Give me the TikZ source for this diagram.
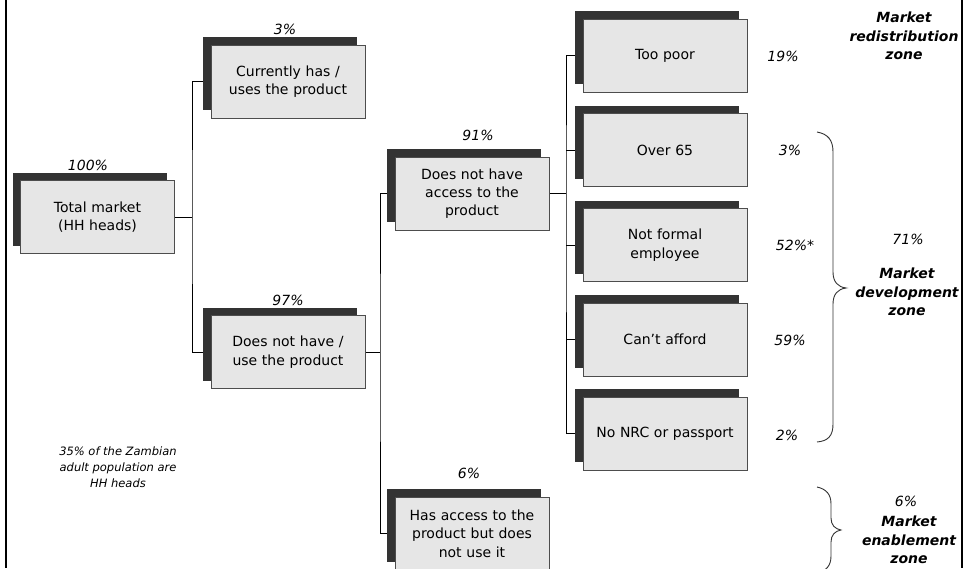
\documentclass[tikz,border=0pt]{standalone}
\usepackage{fontspec}
\setmainfont{DejaVu Sans}
\usetikzlibrary{shadows,backgrounds}
\definecolor{shd}{HTML}{333333}
\definecolor{boxfill}{HTML}{E6E6E6}
\definecolor{boxline}{HTML}{4D4D4D}
\tikzset{
 box/.style={draw=boxline, line width=0.9pt, fill=boxfill, minimum height=73pt, inner sep=2pt, align=center,
   font=\fontsize{14}{18.3}\selectfont,
   general shadow={fill=shd, draw=none, shadow xshift=-8pt, shadow yshift=8pt}},
 lbox/.style={box, minimum width=154pt, text width=150pt},
 rbox/.style={box, minimum width=164pt, text width=160pt},
 pct/.style={font=\fontsize{14}{17}\selectfont\itshape, inner sep=0pt},
 zone/.style={font=\fontsize{14}{18.3}\selectfont\bfseries\itshape, align=center, inner sep=0pt},
 link/.style={draw=black, line width=0.9pt},
 brace/.style={draw=black!80, line width=0.9pt},
 frame/.style={draw=black, line width=2pt},
}
\begin{document}
\begin{tikzpicture}[x=1pt,y=-1pt]
\useasboundingbox (0,0) rectangle (963,568);
% frame side lines
\draw[frame] (6,0) -- (6,568);
\draw[frame] (961.5,0) -- (961.5,568);

% boxes
\node[lbox] (total) at (97.5,217) {Total market\\(HH heads)};
\node[lbox] (curr) at (288,81.5) {Currently has /\\uses the product};
\node[lbox] (dnh) at (288,352) {Does not have /\\use the product};
\node[lbox] (dna) at (472,193.5) {Does not have\\access to the\\product};
\node[lbox] (has) at (472,533.5) {Has access to the\\product but does\\not use it};
\node[rbox] (poor) at (665,55.5) {Too poor};
\node[rbox] (over) at (665,150) {Over 65};
\node[rbox] (form) at (665,245) {Not formal\\employee};
\node[rbox] (aff) at (665,339.5) {Can’t afford};
\node[rbox] (nrc) at (665,433.5) {No NRC or passport};

% percentages above boxes
\node[pct] (p100) at (88,165) {100\%};
\node[pct] (p3) at (285,29) {3\%};
\node[pct] (p97) at (288,300) {97\%};
\node[pct] (p91) at (478,135) {91\%};
\node[pct] (p6) at (469,473) {6\%};

% percentages right of boxes
\node[pct] (r19) at (783,56) {19\%};
\node[pct] (r3) at (790,150) {3\%};
\node[pct] (r52) at (795,245) {52\%*};
\node[pct] (r59) at (790,340) {59\%};
\node[pct] (r2) at (787,435) {2\%};

% note
\node[font=\fontsize{11.5}{16}\selectfont\itshape, align=center, inner sep=0pt] (note) at (118,467)
  {35\% of the Zambian\\adult population are\\HH heads};

% zones
\node[zone] (z1) at (904,36) {Market\\redistribution\\zone};
\node[pct] (z2p) at (908,239) {71\%};
\node[zone] (z2) at (907,292) {Market\\development\\zone};
\node[pct] (z3p) at (906,501) {6\%};
\node[zone] (z3) at (909,540) {Market\\enablement\\zone};

% braces
\draw[brace] (817,132) .. controls (828,134) and (833,140) .. (833,152) -- (833,272)
  .. controls (833,282) and (838,287) .. (846,288)
  .. controls (838,289) and (833,294) .. (833,304) -- (833,424)
  .. controls (833,436) and (828,441) .. (817,442);
\draw[brace] (817,487) .. controls (826,489) and (831,494) .. (831,504) -- (831,518)
  .. controls (831,525) and (835,529) .. (841,530)
  .. controls (835,531) and (831,535) .. (831,542) -- (831,556)
  .. controls (831,566) and (826,571) .. (817,573);

% connectors
\begin{scope}[on background layer]
\coordinate (j1) at (192,217);
\coordinate (j2) at (380,352);
\coordinate (j3) at (566,193.5);
\draw[link] (total.east) -- (j1);
\draw[link] (curr.west) -| (j1) |- (dnh.west);
\draw[link] (dnh.east) -- (j2);
\draw[link] (dna.west) -| (j2) |- (has.west);
\draw[link, line width=1.8pt] (dna.east) -- (j3);
\draw[link] (poor.west) -| (j3) |- (nrc.west);
\draw[link] (over.west) -- (over.west -| j3);
\draw[link] (form.west) -- (form.west -| j3);
\draw[link] (aff.west) -- (aff.west -| j3);
\end{scope}
\end{tikzpicture}
\end{document}
